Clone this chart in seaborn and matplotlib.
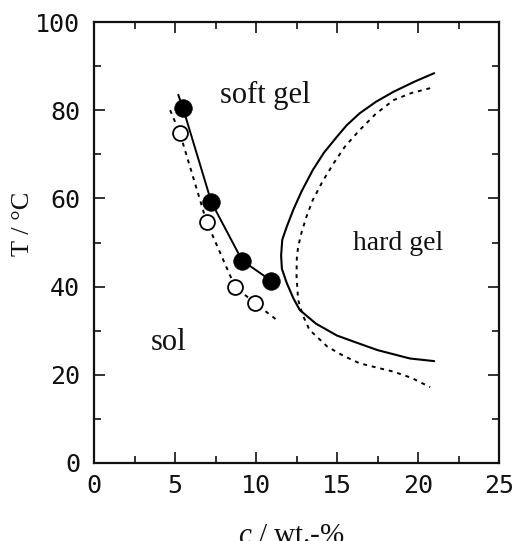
import numpy as np
import pandas as pd
import matplotlib
matplotlib.use("Agg")
import matplotlib.pyplot as plt
import seaborn as sns

# ---- data ----
# soft-gel transition (filled circles) and sol-gel transition (open circles)
c_filled = [5.5, 7.25, 9.15, 10.95]
T_filled = [80.4, 59.1, 45.9, 41.3]
c_open = [5.3, 6.95, 8.7, 9.95]
T_open = [74.8, 54.7, 40.0, 36.2]

# guide lines through the points (with short extensions as drawn)
c_filled_line = [5.2, 5.5, 7.25, 9.15, 10.95]
T_filled_line = [83.5, 80.4, 59.1, 45.9, 41.3]
c_open_line = [4.7, 5.3, 6.95, 8.7, 9.95, 11.3]
T_open_line = [80.0, 74.8, 54.7, 40.0, 36.2, 32.4]

# hard gel boundary (solid) and its dotted counterpart
c_hard_solid = [21.0, 19.8, 18.5, 17.4, 16.4, 15.6, 15.0, 14.2, 13.5, 12.8, 12.3, 11.9,
                11.62, 11.55, 11.6, 11.9, 12.3, 12.7, 13.7, 15.0, 16.2, 17.5, 19.5, 21.0]
T_hard_solid = [88.4, 86.5, 84.2, 81.9, 79.3, 76.6, 74.0, 70.4, 66.4, 61.5, 57.4, 53.6,
                50.6, 47.0, 44.0, 40.8, 37.4, 34.7, 31.6, 28.9, 27.3, 25.6, 23.7, 23.1]
c_hard_dot = [20.75, 19.6, 18.5, 17.4, 16.4, 15.5, 14.8, 14.1, 13.5, 13.1, 12.8, 12.6,
              12.52, 12.5, 12.6, 12.9, 13.3, 14.4, 15.4, 16.4, 17.5, 18.5, 19.6, 20.75]
T_hard_dot = [85.0, 83.9, 82.3, 79.2, 75.5, 71.8, 68.0, 63.8, 59.6, 55.7, 52.1, 49.0,
              46.5, 42.5, 37.0, 33.4, 30.2, 26.4, 24.3, 22.6, 21.6, 20.7, 19.3, 17.2]

region_labels = ["soft gel", "hard gel", "sol"]
region_c = [10.6, 18.8, 4.6]
region_T = [81.6, 48.3, 25.6]
region_size = [22, 20, 22]

x_ticks = [0, 5, 10, 15, 20, 25]
y_ticks = [0, 20, 40, 60, 80, 100]

# ---- styling ----
sns.set_theme(style="ticks")
plt.rcParams["font.family"] = ["DejaVu Sans Mono", "DejaVu Sans"]
plt.rcParams["mathtext.fontset"] = "custom"
plt.rcParams["mathtext.it"] = "Liberation Serif:italic"
plt.rcParams["mathtext.rm"] = "Liberation Serif"

fig = plt.figure(figsize=(5.19, 5.41), dpi=100)
ax = fig.add_axes([94 / 519, 1 - 463 / 541, (499 - 94) / 519, (463 - 22) / 541])

sns.lineplot(x=c_filled_line, y=T_filled_line, sort=False, estimator=None,
             color="black", lw=1.4, ax=ax)
sns.lineplot(x=c_open_line, y=T_open_line, sort=False, estimator=None,
             color="black", lw=1.4, ax=ax, linestyle=(0, (2, 2.5)))
sns.lineplot(x=c_hard_solid, y=T_hard_solid, sort=False, estimator=None,
             color="black", lw=1.5, ax=ax)
sns.lineplot(x=c_hard_dot, y=T_hard_dot, sort=False, estimator=None,
             color="black", lw=1.4, ax=ax, linestyle=(0, (2, 2.5)))

sns.scatterplot(x=c_open, y=T_open, s=115, facecolor="white", edgecolor="black",
                linewidth=1.3, ax=ax, zorder=3)
sns.scatterplot(x=c_filled, y=T_filled, s=160, color="black", edgecolor="black",
                linewidth=0.5, ax=ax, zorder=4)

for lab, cx, ty, fs in zip(region_labels, region_c, region_T, region_size):
    ax.text(cx, ty, lab, ha="center", va="baseline", fontsize=fs,
            family="Liberation Serif", color="#111111")

ax.set_xlim(0, 25)
ax.set_ylim(0, 100)
ax.set_xticks(x_ticks)
ax.set_yticks(y_ticks)
ax.set_xticks(np.arange(2.5, 25, 5), minor=True)
ax.set_yticks(np.arange(10, 100, 20), minor=True)
ax.tick_params(which="both", direction="in", top=True, right=True,
               width=1.2, color="#111111", labelsize=18, labelcolor="#111111")
ax.tick_params(which="major", length=8)
ax.tick_params(which="minor", length=4.8)
ax.tick_params(axis="x", pad=8)
ax.tick_params(axis="y", pad=10)
for sp in ax.spines.values():
    sp.set_linewidth(1.6)
    sp.set_color("#111111")
    sp.set_visible(True)

ax.set_ylabel("T / °C", family="Liberation Serif", fontsize=19, color="#111111")
ax.yaxis.set_label_coords(-0.148, 0.543)
ax.set_xlabel(r"$c$ / wt.-%", family="Liberation Serif", fontsize=21, color="#111111")
ax.xaxis.set_label_coords(0.488, -0.135)
ax.xaxis.label.set_va("top")

fig.savefig("out.png", dpi=100, facecolor="white")
